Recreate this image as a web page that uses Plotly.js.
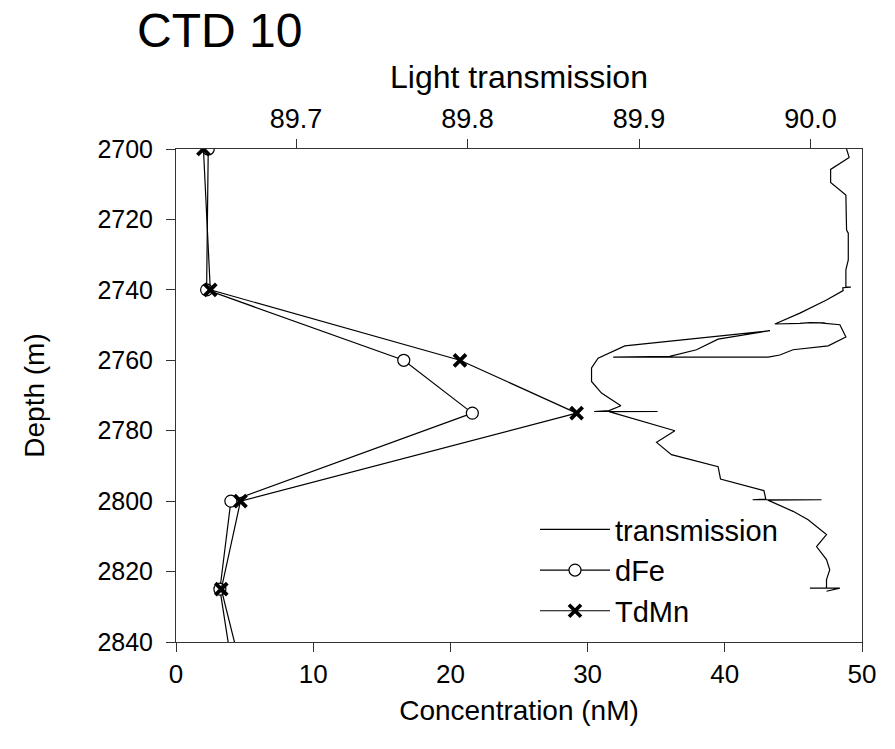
<!DOCTYPE html>
<html>
<head>
<meta charset="utf-8">
<script src="https://cdn.plot.ly/plotly-3.0.1.min.js"></script>
<style>html,body{margin:0;padding:0;background:#fff;}#chart{width:895px;height:749px;}</style>
</head>
<body>
<div id="chart"></div>
<script>
// Discrete samples (depth in m, concentration in nM)
const sampleDepth = [2700, 2740, 2760, 2775, 2800, 2825, 2850];
const dFe = [2.35, 2.23, 16.6, 21.6, 4.0, 3.2, 4.2];
const TdMn = [2.0, 2.5, 20.7, 29.2, 4.7, 3.3, 4.9];

// CTD light transmission profile
const transDepth = [2700, 2702.4, 2705.8, 2709.5, 2713.1, 2723.0, 2723.9, 2731.5, 2734.3, 2739.2, 2739.25, 2739.4, 2740.2, 2742.9, 2746.6, 2749.7, 2749.5, 2749.3, 2749.4, 2749.4, 2749.9, 2753.4, 2755.9, 2757.0, 2758.5, 2759.1, 2759.1, 2758.9, 2757.0, 2754.0, 2751.6, 2755.9, 2759.4, 2762.2, 2766.0, 2769.3, 2772.9, 2774.3, 2774.55, 2774.55, 2774.6, 2780.0, 2783.3, 2786.8, 2790.2, 2793.7, 2797.0, 2799.4, 2799.6, 2799.6, 2799.7, 2802.9, 2805.3, 2809.5, 2812.9, 2816.6, 2819.5, 2822.3, 2824.7, 2824.7, 2824.7, 2825.6];
const transValue = [90.021, 90.0225, 90.0117, 90.0117, 90.0206, 90.021, 90.022, 90.022, 90.0206, 90.0206, 90.0235, 90.0188, 90.019, 90.0093, 89.9938, 89.9792, 89.9938, 89.9996, 90.0083, 90.0054, 90.0171, 90.0206, 90.0103, 89.9898, 89.9821, 89.9753, 89.8849, 89.9179, 89.9335, 89.9461, 89.9763, 89.8917, 89.8761, 89.8723, 89.8723, 89.8781, 89.8894, 89.8825, 89.8738, 89.9108, 89.8825, 89.9209, 89.9102, 89.9189, 89.9461, 89.9475, 89.9728, 89.9739, 89.9662, 90.0064, 89.9751, 89.9898, 89.9986, 90.0093, 90.0035, 90.0093, 90.0112, 90.0093, 90.0093, 89.9996, 90.0171, 90.0093];

const concTicks = [0, 10, 20, 30, 40, 50];
const transTicks = [89.7, 89.8, 89.9, 90.0];
const depthTicks = [2700, 2720, 2740, 2760, 2780, 2800, 2820, 2840];

const FONT = 'Liberation Sans, Arial, sans-serif';

const traces = [
  {
    name: 'transmission', x: transValue, y: transDepth, xaxis: 'x2', yaxis: 'y',
    type: 'scatter', mode: 'lines', line: {color: '#000', width: 1.2}
  },
  {
    name: 'dFe', x: dFe, y: sampleDepth, xaxis: 'x', yaxis: 'y',
    type: 'scatter', mode: 'lines+markers', line: {color: '#000', width: 1.2},
    marker: {symbol: 'circle', size: 12, color: '#fff', line: {color: '#000', width: 1.2}}
  },
  {
    name: 'TdMn', x: TdMn, y: sampleDepth, xaxis: 'x', yaxis: 'y',
    type: 'scatter', mode: 'lines+markers', line: {color: '#000', width: 1.2},
    marker: {symbol: 'x-thin-open', size: 12, color: '#000', line: {color: '#000', width: 3.8}}
  }
];

const layout = {
  width: 895, height: 749,
  margin: {l: 176, r: 33, t: 149, b: 107, pad: 0},
  paper_bgcolor: '#fff', plot_bgcolor: '#fff',
  font: {family: FONT, color: '#000', size: 26},
  showlegend: true,
  title: {
    text: 'CTD 10', font: {family: FONT, size: 48, color: '#000'},
    xref: 'container', yref: 'container', x: 137/895, xanchor: 'left',
    y: 1 - 13/749, yanchor: 'top'
  },
  xaxis: {
    range: [0, 50], tickvals: concTicks, ticktext: concTicks.map(String),
    ticks: 'outside', ticklen: 9, tickwidth: 1, tickcolor: '#333',
    showline: true, linecolor: '#333', linewidth: 1, mirror: false,
    showgrid: false, zeroline: false,
    tickfont: {size: 26}, title: {text: 'Concentration (nM)', font: {size: 28}, standoff: 12}
  },
  xaxis2: {
    overlaying: 'x', side: 'top', anchor: 'y',
    range: [89.63, 90.03], tickvals: transTicks, ticktext: transTicks.map(v => v.toFixed(1)),
    ticks: 'outside', ticklen: 9, tickwidth: 1, tickcolor: '#333',
    showline: true, linecolor: '#333', linewidth: 1,
    showgrid: false, zeroline: false,
    tickfont: {size: 27}, title: {text: 'Light transmission', font: {size: 32}, standoff: 6}
  },
  yaxis: {
    range: [2840, 2700], tickvals: depthTicks, ticktext: depthTicks.map(String),
    ticks: 'outside', ticklen: 9, tickwidth: 1, tickcolor: '#333',
    showline: true, linecolor: '#333', linewidth: 1, mirror: true,
    showgrid: false, zeroline: false, ticklabelstandoff: 8,
    tickfont: {size: 25}, title: {text: 'Depth (m)', font: {size: 28}, standoff: 44}
  },
  legend: {
    x: (535 - 176) / 686, y: (642 - 504) / 493, xanchor: 'left', yanchor: 'top',
    bgcolor: 'rgba(0,0,0,0)', borderwidth: 0, font: {size: 29},
    itemwidth: 70, tracegroupgap: 0
  }
};

Plotly.newPlot('chart', traces, layout, {displayModeBar: false, staticPlot: true});
</script>
</body>
</html>
